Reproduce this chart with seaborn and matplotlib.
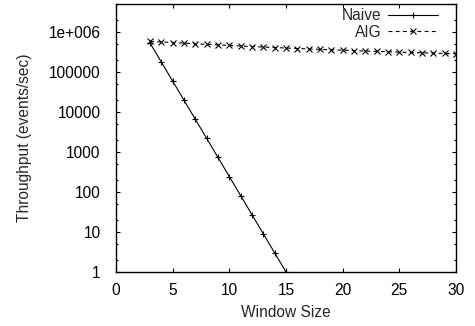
import numpy as np
import pandas as pd
import seaborn as sns
import matplotlib
matplotlib.use("Agg")
import matplotlib.pyplot as plt
from matplotlib.ticker import FixedLocator, FixedFormatter, LogLocator, NullFormatter
from matplotlib.lines import Line2D

# Data
naive_window = [3, 4, 5, 6, 7, 8, 9, 10, 11, 12, 13, 14, 15]
naive_tput = [531441, 177147, 59049, 19683, 6561, 2187, 729, 243, 81, 27, 9, 3, 1]

aig_window = list(range(3, 31))
aig_tput = [580000, 560000, 545000, 525000, 505000, 490000, 475000, 460000,
            445000, 432000, 420000, 408000, 397000, 386000, 376000, 367000,
            358000, 350000, 342000, 334000, 327000, 320000, 313000, 307000,
            301000, 295000, 290000, 285000]

x_ticks = [0, 5, 10, 15, 20, 25, 30]
y_ticks = [1, 10, 100, 1000, 10000, 100000, 1000000]
y_tick_labels = ["1", "10", "100", "1000", "10000", "100000", "1e+006"]

df = pd.concat([
    pd.DataFrame({"window": naive_window, "tput": naive_tput, "series": "Naive"}),
    pd.DataFrame({"window": aig_window, "tput": aig_tput, "series": "AIG"}),
])

sns.set_theme(style="ticks")
plt.rcParams["font.family"] = ["Liberation Sans", "DejaVu Sans"]
fs = 11.2

fig = plt.figure(figsize=(4.75, 3.26), dpi=100)
ax = fig.add_axes([116 / 475, 1 - 272 / 326, 340 / 475, 268 / 326])

markers = {"Naive": "+", "AIG": "x"}
dashes = {"Naive": "", "AIG": (3.5, 3)}
sns.lineplot(data=df, x="window", y="tput", hue="series", style="series",
             palette={"Naive": "black", "AIG": "black"}, markers=markers,
             dashes=dashes, linewidth=0.8, markersize=4, markeredgewidth=0.8,
             markeredgecolor="black", ax=ax, legend=False)

ax.set_yscale("log")
ax.set_xlim(0, 30)
ax.set_ylim(1, 5e6)
ax.xaxis.set_major_locator(FixedLocator(x_ticks))
ax.yaxis.set_major_locator(FixedLocator(y_ticks))
ax.yaxis.set_major_formatter(FixedFormatter(y_tick_labels))
ax.yaxis.set_minor_locator(LogLocator(base=10, subs=(2, 5)))
ax.yaxis.set_minor_formatter(NullFormatter())

ax.tick_params(which="both", direction="in", top=True, right=True,
               colors="black", labelsize=fs)
ax.tick_params(axis="y", pad=11)
ax.tick_params(axis="x", pad=8)
ax.tick_params(which="major", length=3, width=0.8)
ax.tick_params(which="minor", length=1.5, width=0.8)
for s in ax.spines.values():
    s.set_color("black")
    s.set_linewidth(1.0)

ax.set_xlabel("Window Size", fontsize=fs, labelpad=5)
ax.set_ylabel("Throughput (events/sec)", fontsize=fs, labelpad=12)

handles = [
    Line2D([], [], color="black", lw=0.8, marker=markers[s], markersize=4,
           markeredgewidth=0.8, linestyle="-" if s == "Naive" else (0, dashes[s]))
    for s in ["Naive", "AIG"]
]
ax.legend(handles, ["Naive", "AIG"], loc="upper right",
          bbox_to_anchor=(0.947, 0.985), frameon=False,
          markerfirst=False, handlelength=3.2, handletextpad=0.45,
          labelspacing=0.1, borderpad=0, borderaxespad=0, numpoints=1,
          fontsize=fs)

fig.savefig("out.png", dpi=100)
